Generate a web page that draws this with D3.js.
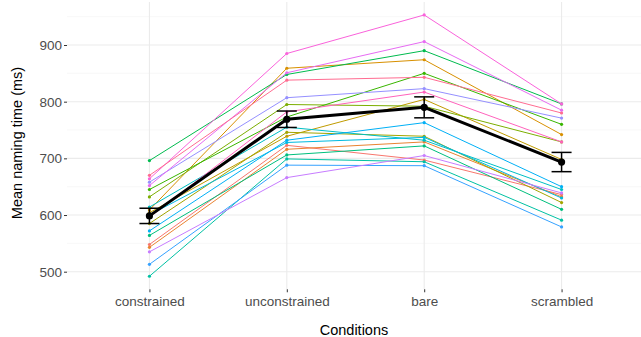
<!DOCTYPE html>
<meta charset="utf-8">
<style>
  body { margin: 0; background: #fff; }
  svg { font-family: "Liberation Sans", Arial, sans-serif; }
  .grid-major line { stroke: #ebebeb; stroke-width: 1.1px; }
  .grid-minor line { stroke: #f4f4f4; stroke-width: 0.6px; }
  .axis text { fill: #4d4d4d; font-size: 13.5px; }
  .axis line { stroke: #333; }
  .subj { fill: none; stroke-width: 1px; }
</style>
<svg width="641" height="337"></svg>
<script src="https://d3js.org/d3.v7.min.js"></script>
<script>
// conditions on the x axis
var conditions = ["constrained", "unconstrained", "bare", "scrambled"];

// mean naming time per participant, one value per condition
var s01 = [548, 723, 697, 636];
var s02 = [543, 716, 729, 632];
var s03 = [609, 859, 874, 742];
var s04 = [604, 739, 804, 698];
var s05 = [585, 746, 739, 622];
var s06 = [632, 795, 792, 729];
var s07 = [645, 773, 850, 760];
var s08 = [696, 848, 890, 796];
var s09 = [564, 706, 722, 610];
var s10 = [492, 699, 694, 591];
var s11 = [614, 755, 732, 645];
var s12 = [600, 728, 737, 630];
var s13 = [572, 732, 763, 650];
var s14 = [513, 688, 687, 579];
var s15 = [658, 807, 823, 771];
var s16 = [535, 666, 705, 639];
var s17 = [652, 851, 906, 785];
var s18 = [664, 885, 953, 796];
var s19 = [596, 782, 817, 729];
var s20 = [670, 838, 843, 780];
var subjects = [s01, s02, s03, s04, s05, s06, s07, s08, s09, s10,
                s11, s12, s13, s14, s15, s16, s17, s18, s19, s20];

// group mean and standard error
var meanValues = [598.5, 769, 790, 693.5];
var seValues = [13.5, 14.5, 18.5, 17];

var yTicks = [500, 600, 700, 800, 900];
var yMinor = [550, 650, 750, 850, 950];

// ggplot default hue palette, 20 levels
var palette = ["#F8766D", "#EA8331", "#D89000", "#C09B00", "#A3A500", "#7CAE00", "#39B600",
  "#00BB4E", "#00BF7D", "#00C1A3", "#00BFC4", "#00BAE0", "#00B0F6", "#35A2FF", "#9590FF",
  "#C77CFF", "#E76BF3", "#FA62DB", "#FF62BC", "#FF6C91"];

var svg = d3.select("svg");

var x = d3.scalePoint()
    .domain(conditions)
    .range([67, 644])
    .padding(0.6);

var y = d3.scaleLinear()
    .domain([500, 900])
    .range([271.7, 45]);

var yTop = y(976), yBot = y(469);

// grid
svg.append("g").attr("class", "grid-minor")
  .selectAll("line").data(yMinor).enter().append("line")
    .attr("x1", 67).attr("x2", 641)
    .attr("y1", d => y(d)).attr("y2", d => y(d));

svg.append("g").attr("class", "grid-major")
  .selectAll("line").data(yTicks).enter().append("line")
    .attr("x1", 67).attr("x2", 641)
    .attr("y1", d => y(d)).attr("y2", d => y(d));

svg.append("g").attr("class", "grid-major")
  .selectAll("line").data(conditions).enter().append("line")
    .attr("x1", d => x(d)).attr("x2", d => x(d))
    .attr("y1", yTop).attr("y2", yBot);

// axes
var yAxis = svg.append("g")
    .attr("class", "axis")
    .attr("transform", "translate(67,0)")
    .call(d3.axisLeft(y).tickValues(yTicks).tickSize(3).tickPadding(2));
yAxis.select(".domain").remove();

var xAxis = svg.append("g")
    .attr("class", "axis")
    .attr("transform", "translate(0," + yBot + ")")
    .call(d3.axisBottom(x).tickSize(3).tickPadding(4));
xAxis.select(".domain").remove();

svg.append("text")
    .attr("x", 354).attr("y", 335)
    .attr("text-anchor", "middle")
    .style("font-size", "14.5px")
    .text("Conditions");

svg.append("text")
    .attr("transform", "translate(22,143) rotate(-90)")
    .attr("text-anchor", "middle")
    .style("font-size", "14.5px")
    .text("Mean naming time (ms)");

// participant lines
var line = d3.line()
    .x((d, i) => x(conditions[i]))
    .y(d => y(d));

var subj = svg.append("g").selectAll("g")
    .data(subjects).enter().append("g")
    .style("stroke", (d, i) => palette[i])
    .style("fill", (d, i) => palette[i]);

subj.append("path")
    .attr("class", "subj")
    .attr("d", line);

subj.selectAll("circle")
    .data(d => d).enter().append("circle")
    .attr("cx", (d, i) => x(conditions[i]))
    .attr("cy", d => y(d))
    .attr("r", 1.6)
    .style("stroke", "none");

// mean line with error bars
var mg = svg.append("g");

mg.append("path")
    .datum(meanValues)
    .attr("d", line)
    .style("fill", "none")
    .style("stroke", "#000")
    .style("stroke-width", 3);

var eb = mg.selectAll(".eb")
    .data(meanValues).enter().append("g")
    .style("stroke", "#000")
    .style("stroke-width", 1.5);

eb.append("line")
    .attr("x1", (d, i) => x(conditions[i])).attr("x2", (d, i) => x(conditions[i]))
    .attr("y1", (d, i) => y(d + seValues[i])).attr("y2", (d, i) => y(d - seValues[i]));
eb.append("line")
    .attr("x1", (d, i) => x(conditions[i]) - 10).attr("x2", (d, i) => x(conditions[i]) + 10)
    .attr("y1", (d, i) => y(d + seValues[i])).attr("y2", (d, i) => y(d + seValues[i]));
eb.append("line")
    .attr("x1", (d, i) => x(conditions[i]) - 10).attr("x2", (d, i) => x(conditions[i]) + 10)
    .attr("y1", (d, i) => y(d - seValues[i])).attr("y2", (d, i) => y(d - seValues[i]));

mg.selectAll("circle")
    .data(meanValues).enter().append("circle")
    .attr("cx", (d, i) => x(conditions[i]))
    .attr("cy", d => y(d))
    .attr("r", 3.6)
    .style("fill", "#000");
</script>
